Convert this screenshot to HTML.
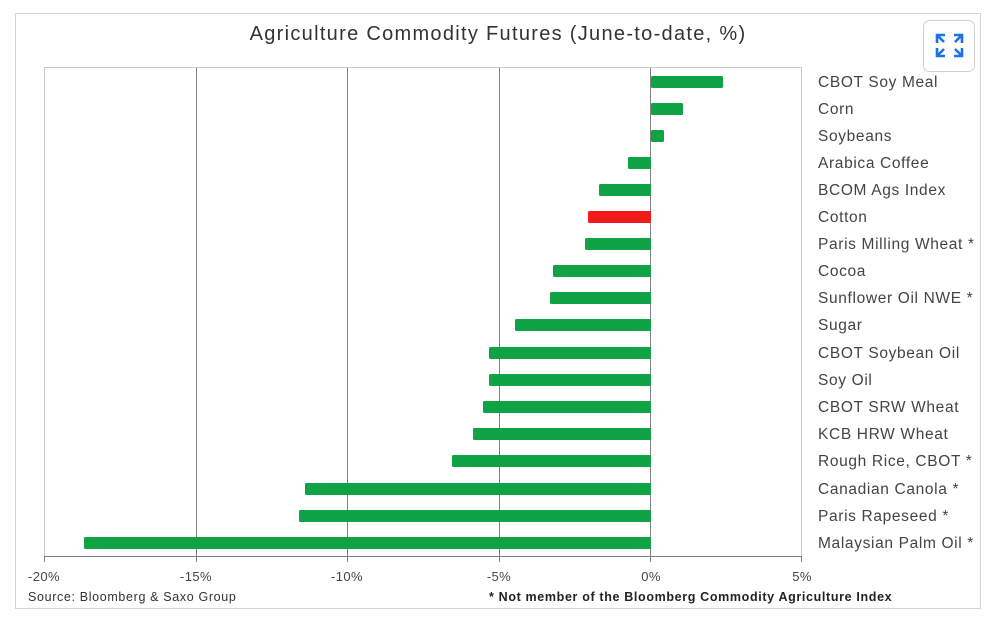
<!DOCTYPE html><html><head><style>
body{margin:0;background:#fff;width:1000px;height:624px;overflow:hidden;font-family:"Liberation Sans",sans-serif}
</style></head><body>
<svg width="1000" height="624" xmlns="http://www.w3.org/2000/svg" font-family="Liberation Sans, sans-serif">
<rect x="15.5" y="13.5" width="965" height="595" fill="#fff" stroke="#d4d4d4"/>
<text x="498" y="40" font-size="20" text-anchor="middle" fill="#333" letter-spacing="1.3">Agriculture Commodity Futures (June-to-date, %)</text>
<rect x="923.5" y="20.5" width="51" height="51" rx="6" fill="#fff" stroke="#d0d0d0"/>
<g stroke="#1a73e8" stroke-width="2.6" fill="none">
<path d="M937 43V35h8M937 35l7 7"/><path d="M962 43V35h-8M962 35l-7 7"/><path d="M937 48v8h8M937 56l7-7"/><path d="M962 48v8h-8M962 56l-7-7"/>
</g>
<rect x="44.5" y="67.5" width="757" height="489" fill="none" stroke="#c8c8c8"/>
<g stroke="#808080" stroke-width="1"><line x1="196.5" y1="68" x2="196.5" y2="556"/><line x1="347.5" y1="68" x2="347.5" y2="556"/><line x1="499.5" y1="68" x2="499.5" y2="556"/><line x1="650.5" y1="68" x2="650.5" y2="556"/>
<line x1="44" y1="556.5" x2="802" y2="556.5"/>
<line x1="44.5" y1="556" x2="44.5" y2="562"/><line x1="196.5" y1="556" x2="196.5" y2="562"/><line x1="347.5" y1="556" x2="347.5" y2="562"/><line x1="499.5" y1="556" x2="499.5" y2="562"/><line x1="650.5" y1="556" x2="650.5" y2="562"/><line x1="801.5" y1="556" x2="801.5" y2="562"/></g>
<g font-size="13" fill="#444" text-anchor="middle" letter-spacing="0.4"><text x="44" y="581">-20%</text><text x="196" y="581">-15%</text><text x="347" y="581">-10%</text><text x="499" y="581">-5%</text><text x="651" y="581">0%</text><text x="802" y="581">5%</text></g>
<text x="28" y="601" font-size="12.5" fill="#333" letter-spacing="0.65">Source: Bloomberg &amp; Saxo Group</text>
<text x="489" y="601" font-size="12.5" font-weight="bold" fill="#222" letter-spacing="0.65">* Not member of the Bloomberg Commodity Agriculture Index</text>
<g id="bars">
<rect x="651" y="76" width="72" height="12" fill="#0fa346" rx="1.5"/>
<rect x="651" y="103" width="32" height="12" fill="#0fa346" rx="1.5"/>
<rect x="651" y="130" width="13" height="12" fill="#0fa346" rx="1.5"/>
<rect x="628" y="157" width="23" height="12" fill="#0fa346" rx="1.5"/>
<rect x="599" y="184" width="52" height="12" fill="#0fa346" rx="1.5"/>
<rect x="588" y="211" width="63" height="12" fill="#f01a1a" rx="1.5"/>
<rect x="585" y="238" width="66" height="12" fill="#0fa346" rx="1.5"/>
<rect x="553" y="265" width="98" height="12" fill="#0fa346" rx="1.5"/>
<rect x="550" y="292" width="101" height="12" fill="#0fa346" rx="1.5"/>
<rect x="515" y="319" width="136" height="12" fill="#0fa346" rx="1.5"/>
<rect x="489" y="347" width="162" height="12" fill="#0fa346" rx="1.5"/>
<rect x="489" y="374" width="162" height="12" fill="#0fa346" rx="1.5"/>
<rect x="483" y="401" width="168" height="12" fill="#0fa346" rx="1.5"/>
<rect x="473" y="428" width="178" height="12" fill="#0fa346" rx="1.5"/>
<rect x="452" y="455" width="199" height="12" fill="#0fa346" rx="1.5"/>
<rect x="305" y="483" width="346" height="12" fill="#0fa346" rx="1.5"/>
<rect x="299" y="510" width="352" height="12" fill="#0fa346" rx="1.5"/>
<rect x="84" y="537" width="567" height="12" fill="#0fa346" rx="1.5"/>
</g>
<g font-size="15.5" fill="#444" letter-spacing="0.65">
<text x="818" y="87">CBOT Soy Meal</text><text x="818" y="114">Corn</text><text x="818" y="141">Soybeans</text><text x="818" y="168">Arabica Coffee</text><text x="818" y="195">BCOM Ags Index</text><text x="818" y="222">Cotton</text><text x="818" y="249">Paris Milling Wheat *</text><text x="818" y="276">Cocoa</text><text x="818" y="303">Sunflower Oil NWE *</text><text x="818" y="330">Sugar</text><text x="818" y="358">CBOT Soybean Oil</text><text x="818" y="385">Soy Oil</text><text x="818" y="412">CBOT SRW Wheat</text><text x="818" y="439">KCB HRW Wheat</text><text x="818" y="466">Rough Rice, CBOT *</text><text x="818" y="494">Canadian Canola *</text><text x="818" y="521">Paris Rapeseed *</text><text x="818" y="548">Malaysian Palm Oil *</text>
</g>
</svg>
</body></html>
